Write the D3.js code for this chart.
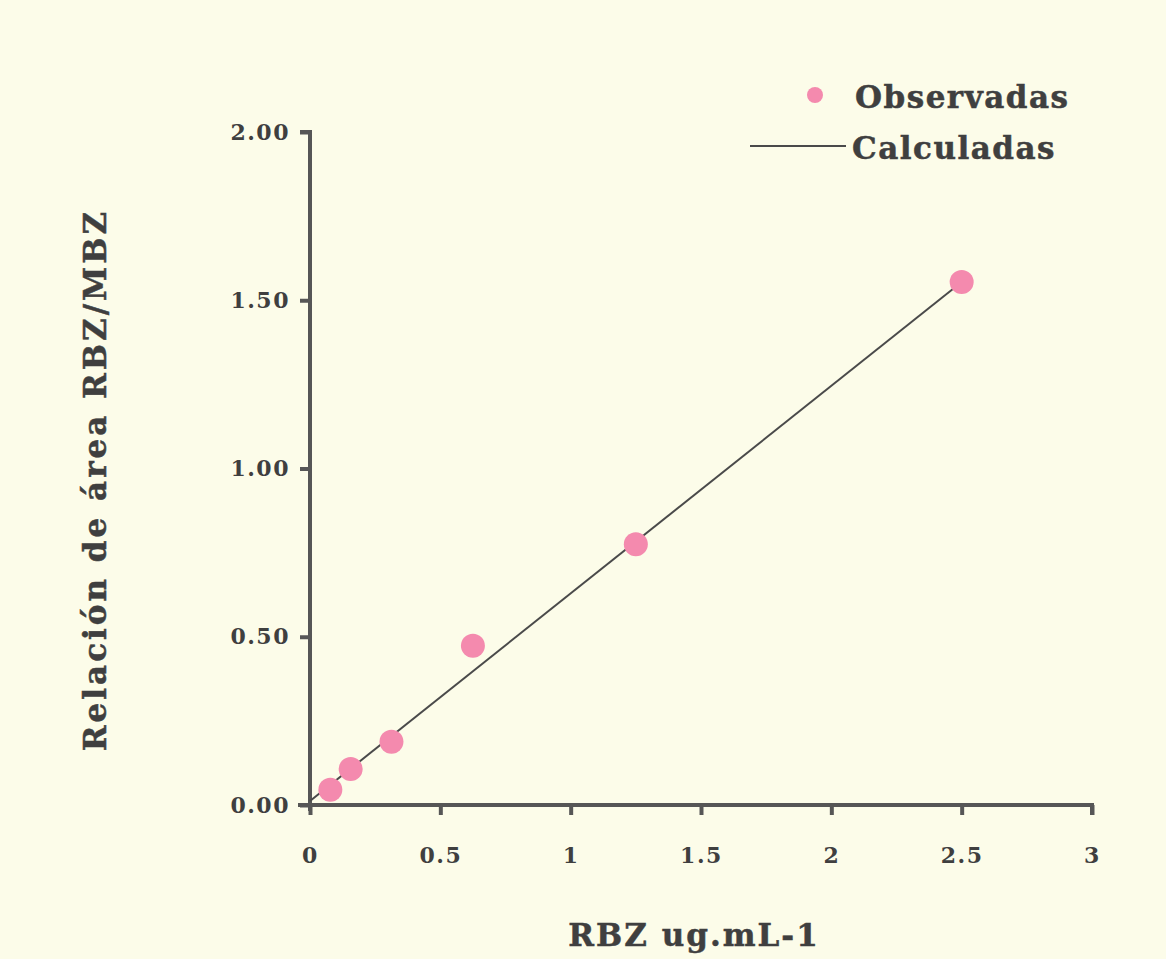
<!DOCTYPE html>
<html>
<head>
<meta charset="utf-8">
<script src="https://cdn.jsdelivr.net/npm/d3@7"></script>
<style>
  html, body { margin: 0; padding: 0; background: #fcfce9; }
  svg { display: block; }
  text { font-family: "DejaVu Serif", "Liberation Serif", serif; font-weight: bold; fill: #3f3f3f; }
</style>
</head>
<body>
<svg id="chart" width="1166" height="959"></svg>
<script>
// observed points (concentration vs area ratio)
const concX = [0.078, 0.156, 0.3125, 0.625, 1.25, 2.5];
const observedY = [0.045, 0.107, 0.188, 0.473, 0.775, 1.554];
// fitted line
const calcX = [0, 2.5];
const calcY = [0.012, 1.554];
const xTicks = [0, 0.5, 1, 1.5, 2, 2.5, 3];
const yTicks = [0, 0.5, 1, 1.5, 2];

const W = 1166, H = 959;
const svg = d3.select('#chart');
const axisColor = '#565656';
const pink = '#f48aae';

svg.append('rect').attr('width', W).attr('height', H).attr('fill', '#fcfce9');

const x = d3.scaleLinear().domain([0, 3]).range([310, 1092]);
const y = d3.scaleLinear().domain([0, 2]).range([805, 132]);

// y axis
const yAxis = svg.append('g')
  .attr('transform', `translate(${x(0)},0)`)
  .call(d3.axisLeft(y).tickValues(yTicks).tickFormat(d3.format('.2f')).tickSize(10).tickSizeOuter(0).tickPadding(10));
yAxis.select('.domain').attr('stroke', axisColor).attr('stroke-width', 4)
  .attr('d', `M-10,${y(2)}H0V${y(0) + 6}`);
yAxis.selectAll('.tick line').attr('stroke', axisColor).attr('stroke-width', 4);
yAxis.selectAll('.tick text')
  .style('font-family', '"DejaVu Serif", serif').style('font-weight', 'bold')
  .style('font-size', '22px').attr('fill', '#3f3f3f').attr('letter-spacing', '1.5px');

// x axis
const xAxis = svg.append('g')
  .attr('transform', `translate(0,${y(0)})`)
  .call(d3.axisBottom(x).tickValues(xTicks).tickFormat(d => String(d)).tickSize(10).tickSizeOuter(0).tickPadding(32));
xAxis.select('.domain').attr('stroke', axisColor).attr('stroke-width', 4)
  .attr('d', `M${x(0) - 12},0H${x(3)}V10`);
xAxis.selectAll('.tick line').attr('stroke', axisColor).attr('stroke-width', 4);
xAxis.selectAll('.tick text')
  .style('font-family', '"DejaVu Serif", serif').style('font-weight', 'bold')
  .style('font-size', '22px').attr('fill', '#3f3f3f').attr('letter-spacing', '1.5px');

// calculated line
const line = d3.line().x((d, i) => x(calcX[i])).y(d => y(d));
svg.append('path')
  .datum(calcY)
  .attr('d', line)
  .attr('fill', 'none')
  .attr('stroke', '#4a4a4a')
  .attr('stroke-width', 2);

// observed points
svg.append('g').selectAll('circle')
  .data(observedY)
  .join('circle')
  .attr('cx', (d, i) => x(concX[i]))
  .attr('cy', d => y(d))
  .attr('r', 12)
  .attr('fill', pink);

// axis titles
svg.append('text')
  .attr('x', 694).attr('y', 946)
  .attr('text-anchor', 'middle')
  .style('font-size', '31px')
  .attr('letter-spacing', '2px')
  .attr('stroke', '#3f3f3f').attr('stroke-width', 0.5)
  .text('RBZ ug.mL-1');

svg.append('text')
  .attr('transform', 'translate(106,480) rotate(-90)')
  .attr('text-anchor', 'middle')
  .style('font-size', '31px')
  .attr('letter-spacing', '3px')
  .attr('stroke', '#3f3f3f').attr('stroke-width', 0.5)
  .text('Relación de área RBZ/MBZ');

// legend
const legend = svg.append('g');
legend.append('circle').attr('cx', 815).attr('cy', 95).attr('r', 8).attr('fill', pink);
legend.append('text').attr('x', 855).attr('y', 108).style('font-size', '31px')
  .attr('letter-spacing', '1.5px').attr('stroke', '#3f3f3f').attr('stroke-width', 0.5)
  .text('Observadas');
legend.append('line').attr('x1', 750).attr('x2', 846).attr('y1', 146).attr('y2', 146)
  .attr('stroke', '#4a4a4a').attr('stroke-width', 2);
legend.append('text').attr('x', 852).attr('y', 159).style('font-size', '31px')
  .attr('letter-spacing', '1.5px').attr('stroke', '#3f3f3f').attr('stroke-width', 0.5)
  .text('Calculadas');
</script>
</body>
</html>
